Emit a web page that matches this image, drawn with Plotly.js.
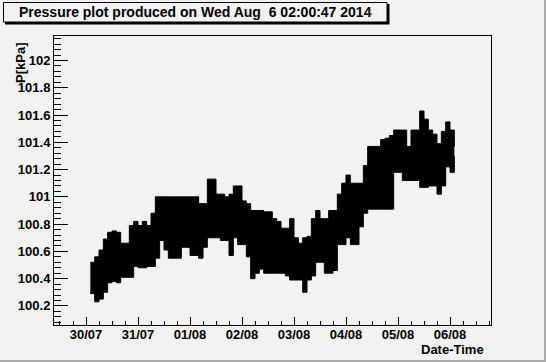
<!DOCTYPE html>
<html>
<head>
<meta charset="utf-8">
<script src="https://cdn.plot.ly/plotly-3.0.1.min.js"></script>
<style>
html,body{margin:0;padding:0;background:#f2f2f2;}
#chart{width:546px;height:362px;}
</style>
</head>
<body>
<div id="chart"></div>
<script>
// Sampling: one envelope value every 2 hours, starting 30/07/2014 02:00
const sampleStart = Date.UTC(2014, 6, 30, 2, 0, 0);
const sampleStepHours = 2;

// Upper envelope of the pressure trace, kPa
const pressureHigh = [
  100.52, 100.56, 100.61, 100.69, 100.74, 100.75, 100.74, 100.66, 100.66, 100.79,
  100.82, 100.79, 100.82, 100.79, 100.88, 101.00, 101.00, 101.00, 101.00, 101.00,
  101.00, 101.00, 101.00, 101.00, 101.00, 100.95, 100.95, 101.13, 101.13, 101.02,
  101.02, 101.00, 101.02, 101.08, 101.08, 100.97, 100.95, 100.90, 100.90, 100.90,
  100.89, 100.89, 100.84, 100.82, 100.77, 100.77, 100.84, 100.70, 100.66, 100.70,
  100.71, 100.84, 100.90, 100.84, 100.84, 100.90, 100.90, 101.02, 101.10, 101.16,
  101.10, 101.10, 101.10, 101.23, 101.37, 101.37, 101.37, 101.42, 101.43, 101.45,
  101.49, 101.49, 101.49, 101.37, 101.49, 101.49, 101.63, 101.57, 101.49, 101.46,
  101.39, 101.48, 101.55, 101.49, 101.37
];
// Lower envelope of the pressure trace, kPa
const pressureLow = [
  100.29, 100.23, 100.25, 100.30, 100.37, 100.38, 100.37, 100.41, 100.41, 100.41,
  100.49, 100.48, 100.48, 100.49, 100.49, 100.55, 100.68, 100.61, 100.55, 100.55,
  100.55, 100.63, 100.63, 100.57, 100.57, 100.55, 100.63, 100.70, 100.70, 100.70,
  100.68, 100.68, 100.57, 100.70, 100.65, 100.65, 100.56, 100.40, 100.44, 100.47,
  100.44, 100.44, 100.44, 100.44, 100.44, 100.42, 100.39, 100.39, 100.39, 100.30,
  100.39, 100.42, 100.52, 100.52, 100.44, 100.44, 100.46, 100.65, 100.65, 100.70,
  100.65, 100.65, 100.78, 100.88, 100.91, 100.91, 100.91, 100.91, 100.91, 100.91,
  101.18, 101.18, 101.12, 101.12, 101.12, 101.12, 101.07, 101.07, 101.08, 101.08,
  101.02, 101.08, 101.22, 101.18, 101.30
];

const titleText = 'Pressure plot produced on Wed Aug \u00a06 02:00:47 2014';
const xAxisTitle = 'Date-Time';
const yAxisTitle = 'P[kPa]';

const times = pressureHigh.map((_, i) => sampleStart + i * sampleStepHours * 3600000);

// plot-area geometry helpers (pixels -> paper)
const W = 546, H = 362, L = 54, R = 55, T = 36, B = 37;
const pw = W - L - R, ph = H - T - B;
const px = x => (x - L) / pw;
const py = y => (H - B - y) / ph;

const bold = {family: 'Liberation Sans, Arial, sans-serif', size: 13, color: '#000', weight: 'bold'};

const traces = [
  {x: times, y: pressureLow, type: 'scatter', mode: 'lines',
   line: {color: '#000', width: 1, shape: 'hv'}, hoverinfo: 'skip', showlegend: false},
  {x: times, y: pressureHigh, type: 'scatter', mode: 'lines', fill: 'tonexty',
   fillcolor: '#000', line: {color: '#000', width: 1, shape: 'hv'}, hoverinfo: 'skip', showlegend: false}
];

const layout = {
  width: W, height: H,
  margin: {l: L, r: R, t: T, b: B, pad: 0},
  paper_bgcolor: '#f2f2f2', plot_bgcolor: '#f2f2f2',
  showlegend: false,
  xaxis: {
    type: 'date',
    range: [Date.UTC(2014, 6, 29, 9, 14), Date.UTC(2014, 7, 6, 18, 55)],
    tickmode: 'linear', tick0: Date.UTC(2014, 6, 30), dtick: 86400000,
    tickformat: '%d/%m',
    ticks: 'inside', ticklen: 8, tickwidth: 1, tickcolor: '#000',
    ticklabelstandoff: -3,
    minor: {tickmode: 'linear', tick0: Date.UTC(2014, 6, 30), dtick: 21600000,
            ticks: 'inside', ticklen: 4, tickwidth: 1, tickcolor: '#000', showgrid: false},
    showline: true, mirror: true, linecolor: '#000', linewidth: 1,
    showgrid: false, zeroline: false,
    tickfont: bold, fixedrange: true
  },
  yaxis: {
    range: [100.06, 102.18],
    tickmode: 'linear', tick0: 100, dtick: 0.2,
    ticks: 'inside', ticklen: 14, tickwidth: 1, tickcolor: '#000',
    minor: {dtick: 0.04, ticks: 'inside', ticklen: 7, tickwidth: 1, tickcolor: '#000', showgrid: false},
    showline: true, mirror: true, linecolor: '#000', linewidth: 1,
    showgrid: false, zeroline: false,
    tickfont: bold, fixedrange: true
  },
  shapes: [
    // title box shadow
    {type: 'rect', xref: 'paper', yref: 'paper', layer: 'above',
     x0: px(5), x1: px(389.5), y0: py(24.5), y1: py(4),
     fillcolor: '#000', line: {width: 0}},
    // title box
    {type: 'rect', xref: 'paper', yref: 'paper', layer: 'above',
     x0: px(3.5), x1: px(387), y0: py(22), y1: py(2.5),
     fillcolor: '#f2f2f2', line: {color: '#000', width: 1}},
    // canvas bevel (right, bottom)
    {type: 'line', xref: 'paper', yref: 'paper', layer: 'above',
     x0: px(545), x1: px(545), y0: py(0), y1: py(362), line: {color: '#aaaaaa', width: 2}},
    {type: 'line', xref: 'paper', yref: 'paper', layer: 'above',
     x0: px(0), x1: px(546), y0: py(361), y1: py(361), line: {color: '#aaaaaa', width: 2}}
  ],
  annotations: [
    {text: titleText, xref: 'paper', yref: 'paper', x: px(195), y: py(12.5),
     xanchor: 'center', yanchor: 'middle', showarrow: false,
     font: {family: 'Liberation Sans, Arial, sans-serif', size: 14, color: '#000', weight: 'bold'}},
    {text: xAxisTitle, xref: 'paper', yref: 'paper', x: px(486), y: py(349),
     xanchor: 'right', yanchor: 'middle', showarrow: false, font: bold},
    {text: yAxisTitle, xref: 'paper', yref: 'paper', x: px(20), y: py(41),
     xanchor: 'center', yanchor: 'top', textangle: -90, showarrow: false, font: bold}
  ]
};

Plotly.newPlot('chart', traces, layout, {displayModeBar: false, staticPlot: true});
</script>
</body>
</html>
